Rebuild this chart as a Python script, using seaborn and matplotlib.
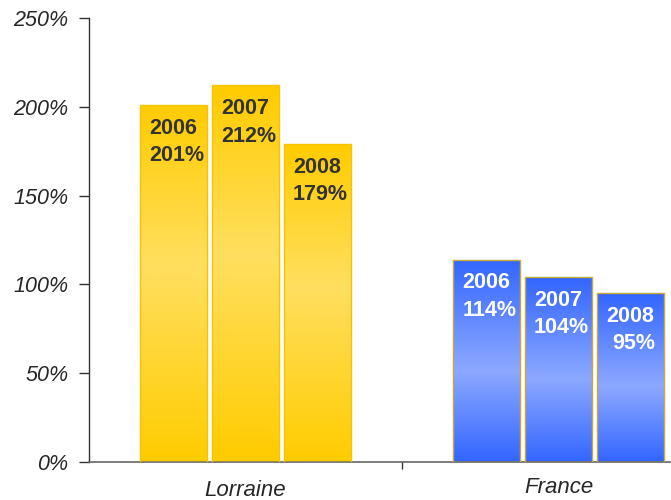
import numpy as np
import pandas as pd
import seaborn as sns
import matplotlib.pyplot as plt
from matplotlib.colors import LinearSegmentedColormap

regions = ["Lorraine", "France"]
years = ["2006", "2007", "2008"]
lorraine_vals = [201, 212, 179]
france_vals = [114, 104, 95]
y_ticks = [0, 50, 100, 150, 200, 250]

df = pd.DataFrame({
    "region": regions[0:1] * 3 + regions[1:2] * 3,
    "year": years * 2,
    "value": lorraine_vals + france_vals,
})

sns.set_style("white")
plt.rcParams['font.family'] = ['Liberation Sans', 'DejaVu Sans']

fig = plt.figure(figsize=(6.71, 5.0), dpi=100)
ax = fig.add_axes([89 / 671, 1 - 462 / 500, 1 - 89 / 671, (462 - 18) / 500])

sns.barplot(data=df, x="region", y="value", hue="year", order=regions,
            hue_order=years, width=0.69, gap=0.07, dodge=True,
            palette=["#FFCC00"] * 3, legend=False, ax=ax, errorbar=None)

yellow = LinearSegmentedColormap.from_list("y", [(0, "#FFCC00"), (0.45, "#FFDF60"), (1, "#FFCC00")])
blue = LinearSegmentedColormap.from_list("b", [(0, "#3366FF"), (0.55, "#8CA8FF"), (1, "#3366FF")])
grad = np.linspace(0, 1, 256).reshape(-1, 1)

for bar in ax.patches:
    x0, y0 = bar.get_x(), bar.get_y()
    w, h = bar.get_width(), bar.get_height()
    is_france = x0 + w / 2 > 0.5
    cmap = blue if is_france else yellow
    bar.set_facecolor("none")
    bar.set_edgecolor("#C9A83A" if is_france else "#F5C400")
    bar.set_linewidth(1.0)
    bar.set_zorder(3)
    img = ax.imshow(grad, cmap=cmap, aspect="auto", extent=[x0, x0 + w, y0, y0 + h],
                    origin="upper", zorder=2)
    img.set_clip_path(bar)

# labels inside bars: year on top line, value below
for bar in ax.patches:
    x0, w, h = bar.get_x(), bar.get_width(), bar.get_height()
    cx = x0 + w / 2
    is_france = cx > 0.5
    vals = france_vals if is_france else lorraine_vals
    idx = int(np.argmin([abs(h - v) for v in vals]))
    col = "white" if is_france else "#333333"
    ax.text(cx, h - 13, years[idx], ha="center", va="center",
            fontsize=15.5, fontweight="bold", color=col, zorder=5)
    ax.text(cx + 0.01, h - 28.5, f"{vals[idx]}%", ha="center", va="center",
            fontsize=15.5, fontweight="bold", color=col, zorder=5)

ax.set_xlim(-0.5, -0.5 + 582 / 313)
ax.set_ylim(0, 250)
ax.set_yticks(y_ticks)
ax.set_yticklabels([f"{t}%" for t in y_ticks], fontsize=15.5, fontstyle="italic")
ax.tick_params(axis="y", direction="out", length=7, width=1, color="#333333", pad=8, left=True)

ax.set_xticks([0.5])
ax.set_xticklabels([""])
ax.tick_params(axis="x", direction="out", length=5, width=1, color="#333333", bottom=True)
for xc, name, yy in [(0, "Lorraine", -16), (1, "France", -14.5)]:
    ax.text(xc, yy, name, ha="center", va="center", fontsize=16, fontstyle="italic",
            transform=ax.transData, clip_on=False)

ax.set_xlabel("")
ax.set_ylabel("")
for s in ["top", "right"]:
    ax.spines[s].set_visible(False)
ax.spines["left"].set_color("#333333")
ax.spines["bottom"].set_color("#666666")
ax.spines["left"].set_linewidth(1)
ax.spines["bottom"].set_linewidth(1.2)

fig.savefig("out.png", dpi=100)
